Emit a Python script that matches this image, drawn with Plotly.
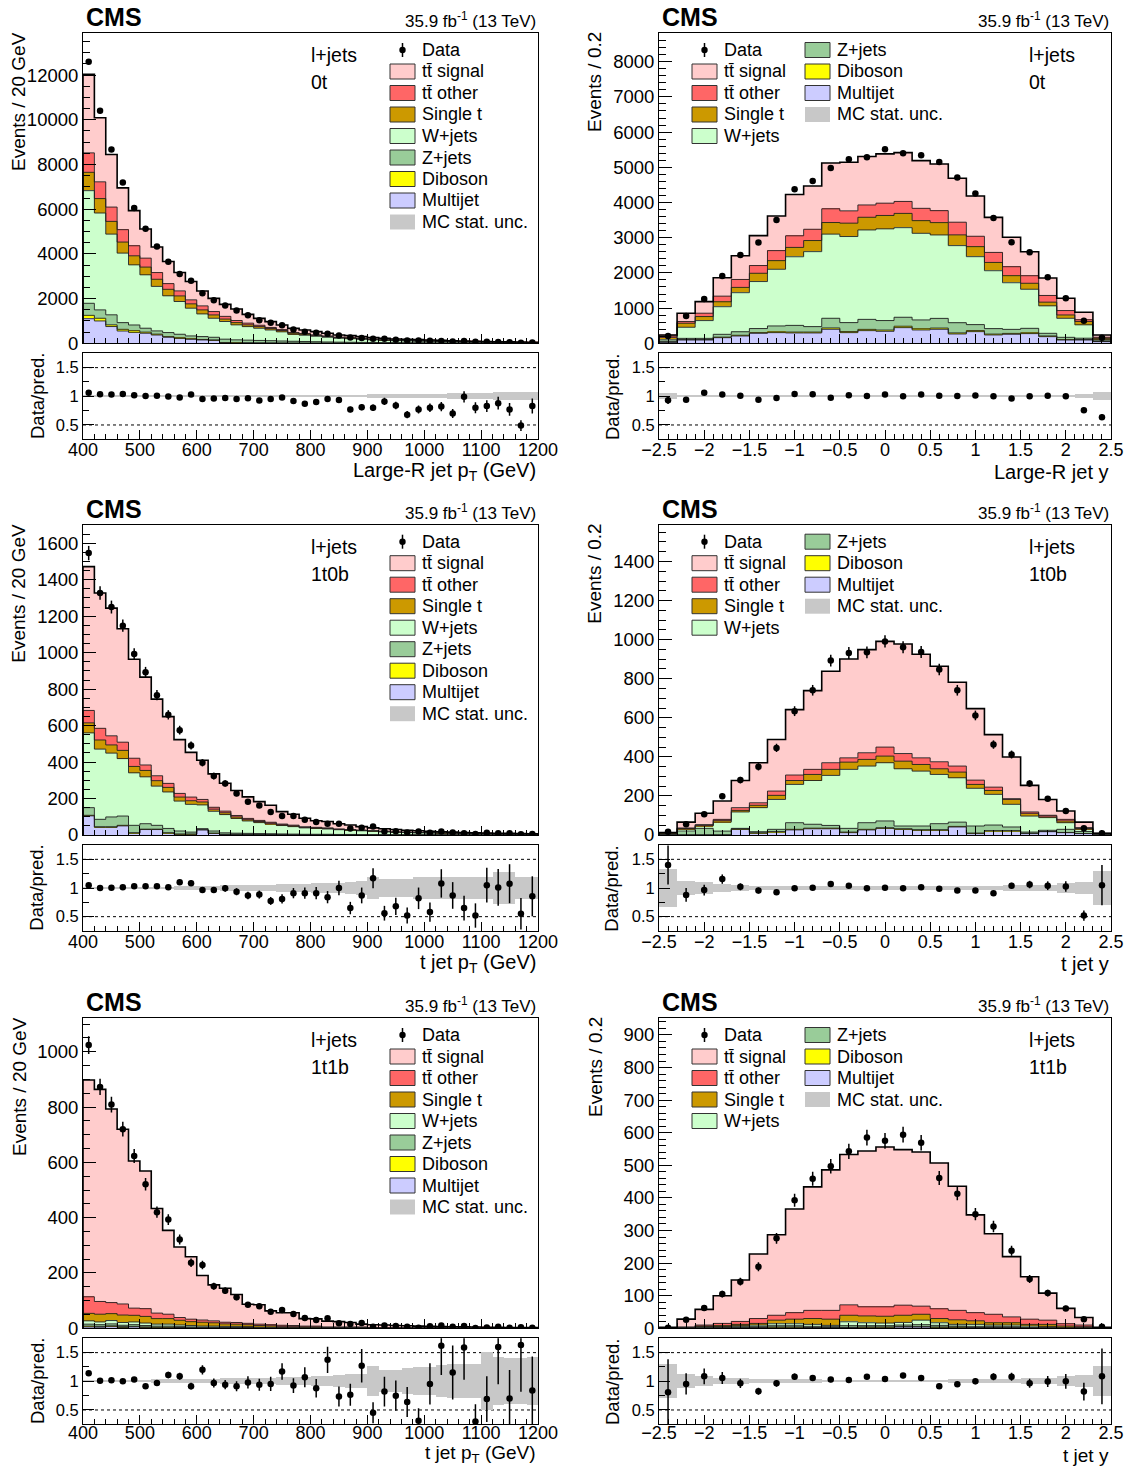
import numpy as np
import plotly.graph_objects as go

# ===================== DATA =====================
# binning
pt_bins = (400.0, 1200.0, 40)     # t / large-R jet pT, 20 GeV bins
y_bins = (-2.5, 2.5, 25)          # rapidity, 0.2 bins

legend_names = ["Data", "tt\u0304 signal", "tt\u0304 other", "Single t", "W+jets",
                "Z+jets", "Diboson", "Multijet", "MC stat. unc."]

# ---- Panel 1 : Large-R jet pT, 0t ----
p1_multijet = [1100, 1000, 750, 550, 490, 450, 370, 270, 220, 180, 150, 130, 20, 15, 12, 10, 8, 6, 5, 4,
               3, 3, 2, 2, 2, 1, 1, 1, 1, 1, 1, 1, 1, 0, 0, 0, 0, 0, 0, 0]
p1_diboson = [150, 120, 75, 75, 75, 50, 40, 30, 30, 25, 20, 20, 15, 10, 10, 8, 8, 7, 6, 5,
              5, 4, 4, 3, 3, 3, 2, 2, 2, 2, 2, 1, 1, 1, 1, 1, 1, 1, 1, 1]
p1_zjets = [540, 375, 450, 300, 255, 175, 145, 180, 155, 125, 130, 120, 150, 130, 120, 110, 100, 90, 80, 72,
            62, 54, 46, 42, 36, 31, 27, 24, 21, 19, 17, 15, 13, 12, 10, 9, 8, 7, 6, 5]
p1_wjets = [5040, 4335, 3610, 3110, 2690, 2390, 1990, 1645, 1465, 1240, 1015, 850, 790, 670, 605, 545, 480, 410, 310, 280,
            245, 210, 175, 160, 140, 118, 104, 90, 84, 76, 70, 61, 54, 47, 43, 38, 33, 29, 26, 24]
p1_singlet = [820, 645, 570, 495, 405, 345, 320, 290, 250, 195, 180, 150, 110, 100, 80, 75, 68, 60, 50, 45,
              39, 34, 28, 26, 22, 19, 17, 15, 13, 12, 11, 10, 9, 8, 7, 6, 5, 5, 4, 4]
p1_ttother = [870, 750, 640, 555, 450, 400, 300, 255, 225, 180, 180, 150, 120, 95, 75, 60, 45, 40, 34, 30,
              26, 22, 19, 17, 15, 13, 11, 10, 9, 8, 7, 7, 6, 5, 5, 4, 4, 3, 3, 3]
p1_signal = [3515, 2865, 2352, 1867, 1570, 1303, 1141, 993, 825, 821, 665, 591, 538, 515, 394, 309, 259, 207, 185, 160,
             141, 120, 98, 93, 80, 68, 61, 52, 49, 46, 41, 35, 31, 27, 24, 22, 19, 17, 15, 13]
p1_data = [12600, 10400, 8670, 7200, 6050, 5130, 4330, 3650, 3100, 2800, 2235, 1930, 1690, 1466, 1250, 1033, 924, 804, 616, 519,
           469, 427, 348, 264, 241, 202, 203, 163, 122, 126, 119, 107, 81, 99, 72, 66, 62, 48, 27, 41]
p1_ratio = [1.06, 1.035, 1.03, 1.04, 1.02, 1.005, 1.01, 0.995, 0.98, 1.03, 0.955, 0.96, 0.97, 0.955, 0.965, 0.925, 0.955, 0.98, 0.92, 0.87,
            0.90, 0.955, 0.935, 0.77, 0.81, 0.80, 0.91, 0.84, 0.68, 0.77, 0.80, 0.82, 0.70, 0.99, 0.80, 0.83, 0.88, 0.77, 0.49, 0.83]
p1_mcunc = [0.008, 0.008, 0.008, 0.008, 0.009, 0.009, 0.01, 0.01, 0.01, 0.011, 0.012, 0.012, 0.013, 0.014, 0.015, 0.016, 0.017, 0.018, 0.019, 0.02,
            0.02, 0.022, 0.024, 0.025, 0.026, 0.028, 0.03, 0.032, 0.035, 0.035, 0.04, 0.042, 0.045, 0.05, 0.055, 0.06, 0.065, 0.07, 0.07, 0.07]

# ---- Panel 2 : Large-R jet y, 0t ----
p2_multijet = [30, 95, 95, 160, 208, 284, 303, 294, 294, 398, 303, 360, 341, 445, 379, 398, 265, 331, 237, 256, 275, 189, 95, 95, 47]
p2_diboson = [5, 10, 10, 15, 20, 20, 25, 25, 25, 38, 30, 35, 35, 40, 35, 35, 30, 30, 25, 25, 25, 20, 10, 10, 5]
p2_zjets = [25, 35, 35, 80, 100, 115, 165, 190, 155, 275, 255, 285, 270, 255, 250, 275, 290, 170, 155, 115, 125, 75, 65, 40, 20]
p2_wjets = [40, 315, 505, 785, 1110, 1335, 1610, 1950, 2130, 2390, 2445, 2540, 2605, 2545, 2460, 2370, 2190, 1930, 1645, 1325, 1110, 780, 540, 380, 40]
p2_singlet = [70, 115, 115, 140, 150, 235, 245, 265, 315, 330, 380, 360, 380, 405, 360, 350, 305, 285, 235, 200, 170, 105, 95, 95, 30]
p2_ttother = [38, 48, 95, 160, 225, 220, 285, 330, 320, 390, 350, 350, 350, 340, 350, 340, 360, 295, 285, 255, 215, 190, 125, 50, 30]
p2_signal = [29, 235, 330, 520, 675, 850, 985, 1175, 1230, 1300, 1380, 1375, 1400, 1385, 1355, 1325, 1250, 1145, 995, 835, 680, 495, 350, 210, 65]
p2_data = [208, 777, 1260, 1913, 2510, 2860, 3504, 4375, 4612, 4981, 5227, 5284, 5512, 5398, 5341, 5152, 4707, 4252, 3561, 2869, 2585, 1875, 1278, 644, 161]
p2_ratio = [0.93, 0.94, 1.06, 1.03, 1.01, 0.94, 0.97, 1.04, 1.035, 0.975, 1.02, 1.005, 1.03, 1.0, 1.03, 1.01, 1.005, 1.015, 1.0, 0.96, 1.0, 1.01, 1.0, 0.755, 0.635]
p2_mcunc = [0.06, 0.02, 0.015, 0.012, 0.01, 0.01, 0.01, 0.01, 0.01, 0.01, 0.01, 0.01, 0.01, 0.01, 0.01, 0.01, 0.01, 0.01, 0.01, 0.01, 0.012, 0.015, 0.02, 0.03, 0.07]

# ---- Panel 3 : t jet pT, 1t0b ----
p3_multijet = [105, 42, 42, 50, 10, 30, 30, 10, 4, 4, 28, 9, 3, 3, 2, 2, 2, 1, 1, 1,
               1, 1, 1, 1, 0, 0, 0, 0, 0, 0, 0, 0, 0, 0, 0, 0, 0, 0, 0, 0]
p3_diboson = [3, 3, 3, 3, 2, 2, 2, 2, 1, 1, 1, 1, 1, 1, 1, 1, 1, 1, 0, 0,
              0, 0, 0, 0, 0, 0, 0, 0, 0, 0, 0, 0, 0, 0, 0, 0, 0, 0, 0, 0]
p3_zjets = [42, 41, 54, 51, 41, 30, 21, 24, 17, 11, 6, 12, 8, 6, 6, 5, 4, 4, 4, 3,
            3, 3, 2, 2, 2, 2, 1, 1, 1, 1, 1, 1, 1, 1, 0, 0, 0, 0, 0, 0]
p3_wjets = [410, 385, 350, 315, 288, 257, 215, 200, 164, 152, 130, 108, 100, 81, 68, 60, 53, 46, 41, 35,
            32, 29, 26, 23, 21, 18, 16, 14, 13, 11, 10, 9, 8, 7, 6, 6, 5, 4, 4, 3]
p3_singlet = [55, 50, 45, 45, 35, 35, 30, 25, 22, 20, 16, 12, 10, 8, 7, 6, 5, 4, 4, 3,
              3, 3, 2, 2, 2, 2, 2, 1, 1, 1, 1, 1, 1, 1, 1, 1, 0, 0, 0, 0]
p3_ttother = [68, 64, 50, 45, 45, 30, 27, 22, 20, 20, 14, 10, 9, 8, 7, 6, 5, 4, 4, 3,
              3, 3, 2, 2, 2, 2, 2, 1, 1, 1, 1, 1, 1, 1, 1, 1, 1, 0, 0, 0]
p3_signal = [789, 742, 700, 622, 543, 482, 420, 366, 295, 245, 215, 183, 153, 137, 118, 103, 93, 68, 60, 47,
             36, 35, 29, 25, 19, 15, 13, 13, 10, 9, 7, 6, 5, 4, 4, 3, 4, 5, 4, 4]
p3_data = [1546, 1327, 1250, 1148, 993, 892, 767, 659, 575, 491, 396, 323, 283, 228, 182, 162, 126, 104, 104, 84,
           71, 62, 62, 36, 40, 46, 19, 20, 14, 19, 12, 19, 14, 9, 6, 12, 10, 10, 4, 6]
p3_ratio = [1.05, 1.0, 1.005, 1.015, 1.03, 1.03, 1.03, 1.015, 1.10, 1.085, 0.965, 0.965, 0.995, 0.935, 0.87, 0.885, 0.775, 0.81, 0.91, 0.91,
            0.91, 0.84, 1.0, 0.65, 0.87, 1.17, 0.56, 0.68, 0.52, 0.82, 0.58, 1.08, 0.87, 0.65, 0.52, 1.05, 1.01, 1.075, 0.55, 0.855]
p3_mcunc = [0.015, 0.015, 0.015, 0.018, 0.02, 0.02, 0.022, 0.025, 0.03, 0.03, 0.035, 0.04, 0.045, 0.05, 0.05, 0.06, 0.06, 0.065, 0.07, 0.07,
            0.08, 0.08, 0.09, 0.1, 0.12, 0.2, 0.15, 0.15, 0.15, 0.2, 0.2, 0.2, 0.2, 0.2, 0.2, 0.2, 0.28, 0.28, 0.2, 0.2]

# ---- Panel 4 : t jet y, 1t0b ----
p4_multijet = [0, 0, 0, 0, 29, 9, 15, 26, 32, 32, 12, 26, 34, 29, 24, 24, 41, 7, 20, 20, 7, 17, 12, 7, 0]
p4_diboson = [0, 1, 1, 1, 2, 2, 2, 3, 3, 3, 3, 3, 3, 3, 3, 3, 3, 3, 2, 2, 2, 1, 1, 1, 0]
p4_zjets = [3, 19, 33, 19, 3, 6, 12, 34, 20, 14, 19, 34, 35, 14, 19, 31, 22, 36, 29, 19, 6, 6, 16, 10, 2]
p4_wjets = [6, 10, 12, 46, 84, 123, 153, 196, 224, 256, 302, 290, 298, 293, 281, 252, 227, 193, 157, 116, 82, 65, 34, 12, 4]
p4_singlet = [2, 3, 4, 9, 8, 12, 21, 20, 31, 31, 37, 34, 34, 39, 34, 29, 29, 20, 20, 25, 14, 8, 9, 3, 2]
p4_ttother = [1, 3, 3, 5, 14, 13, 22, 28, 26, 34, 22, 34, 46, 39, 34, 36, 31, 22, 17, 4, 7, 4, 8, 5, 1]
p4_signal = [0, 30, 58, 94, 139, 205, 264, 335, 403, 468, 506, 528, 541, 561, 530, 489, 429, 366, 269, 213, 136, 81, 43, 28, 0]
p4_data = [17, 55, 106, 199, 281, 349, 446, 634, 741, 893, 932, 935, 991, 961, 937, 847, 741, 612, 463, 412, 264, 186, 123, 34, 9]
p4_ratio = [1.40, 0.88, 0.965, 1.155, 1.02, 0.955, 0.925, 0.995, 1.005, 1.07, 1.04, 0.995, 1.005, 0.995, 1.015, 0.985, 0.955, 0.955, 0.91, 1.04, 1.06, 1.04, 1.025, 0.52, 1.05]
p4_mcunc = [0.34, 0.12, 0.1, 0.07, 0.05, 0.04, 0.035, 0.03, 0.03, 0.03, 0.03, 0.03, 0.03, 0.03, 0.03, 0.03, 0.03, 0.035, 0.04, 0.045, 0.05, 0.06, 0.08, 0.1, 0.29]

# ---- Panel 5 : t jet pT, 1t1b ----
p5_multijet = [5, 4, 6, 3, 5, 3, 2, 2, 2, 1, 1, 1, 1, 1, 1, 0, 0, 0, 0, 0,
               0, 0, 0, 0, 0, 0, 0, 0, 0, 0, 0, 0, 0, 0, 0, 0, 0, 0, 0, 0]
p5_diboson = [3, 3, 3, 3, 2, 2, 2, 2, 1, 1, 1, 1, 1, 1, 1, 1, 1, 0, 0, 0,
              0, 0, 0, 0, 0, 0, 0, 0, 0, 0, 0, 0, 0, 0, 0, 0, 0, 0, 0, 0]
p5_zjets = [7, 6, 7, 5, 6, 5, 4, 4, 3, 3, 2, 2, 2, 2, 1, 1, 1, 1, 1, 1,
            1, 0, 0, 0, 0, 0, 0, 0, 0, 0, 0, 0, 0, 0, 0, 0, 0, 0, 0, 0]
p5_wjets = [12, 10, 12, 10, 10, 9, 7, 7, 6, 5, 4, 4, 3, 3, 3, 2, 2, 2, 2, 1,
            1, 1, 1, 1, 1, 1, 0, 0, 0, 0, 0, 0, 0, 0, 0, 0, 0, 0, 0, 0]
p5_singlet = [27, 28, 25, 27, 24, 24, 20, 20, 17, 14, 14, 12, 9, 8, 7, 6, 5, 4, 4, 3,
              3, 2, 2, 2, 2, 1, 1, 1, 1, 1, 1, 1, 0, 0, 0, 0, 0, 0, 0, 0]
p5_ttother = [60, 46, 40, 40, 26, 28, 20, 16, 10, 9, 8, 7, 6, 6, 5, 5, 4, 4, 3, 3,
              3, 2, 2, 2, 2, 1, 1, 1, 1, 1, 1, 1, 1, 0, 0, 0, 0, 0, 0, 0]
p5_signal = [784, 767, 700, 632, 532, 498, 378, 303, 255, 226, 161, 130, 123, 101, 69, 70, 50, 45, 46, 27,
             26, 21, 19, 16, 10, 10, 10, 8, 7, 6, 5, 4, 4.5, 5, 4.5, 4, 3.5, 3, 2.7, 2.4]
p5_data = [1024, 873, 809, 720, 623, 521, 420, 393, 321, 237, 229, 152, 136, 112, 85, 80, 60, 66, 52, 37,
           30, 36, 18, 16, 19, 6, 10, 8, 6, 2, 7, 10, 6, 8, 1, 3, 6, 2, 4, 2]
p5_ratio = [1.14, 1.01, 1.02, 1.0, 1.03, 0.915, 0.97, 1.11, 1.09, 0.915, 1.2, 0.97, 0.94, 0.915, 0.98, 0.94, 0.955, 1.17, 0.925, 1.07,
            0.88, 1.375, 0.735, 0.765, 1.27, 0.45, 0.82, 0.75, 0.64, 0.31, 0.955, 1.62, 1.155, 1.59, 0.30, 0.69, 1.60, 0.70, 1.635, 0.84]
p5_mcunc = [0.02, 0.02, 0.02, 0.02, 0.025, 0.025, 0.03, 0.03, 0.035, 0.035, 0.04, 0.04, 0.045, 0.05, 0.05, 0.055, 0.06, 0.065, 0.07, 0.075,
            0.08, 0.09, 0.1, 0.12, 0.12, 0.27, 0.2, 0.2, 0.22, 0.25, 0.25, 0.28, 0.3, 0.3, 0.3, 0.5, 0.42, 0.4, 0.4, 0.42]

# ---- Panel 6 : t jet y, 1t1b ----
p6_multijet = [0, 0, 1, 1, 1, 2, 3, 3, 2, 2, 2, 3, 3, 4, 4, 3, 3, 2, 2, 1, 1, 1, 0, 0, 0]
p6_diboson = [0, 0, 0, 1, 1, 1, 1, 1, 1, 1, 1, 1, 1, 1, 1, 1, 1, 1, 1, 1, 0, 0, 0, 0, 0]
p6_zjets = [0, 1, 2, 2, 3, 3, 4, 4, 3, 3, 5, 4, 4, 5, 6, 5, 3, 3, 3, 3, 2, 2, 1, 1, 0]
p6_wjets = [0, 1, 2, 2, 3, 4, 6, 6, 6, 3, 12, 9, 8, 8, 14, 8, 5, 6, 4, 5, 4, 3, 2, 1, 0]
p6_singlet = [0, 1, 2, 2, 4, 5, 11, 14, 18, 19, 20, 21, 21, 22, 18, 13, 14, 11, 7, 7, 5, 6, 4, 3, 0]
p6_ttother = [0, 1, 3, 7, 9, 15, 15, 20, 25, 27, 32, 28, 29, 31, 25, 30, 29, 25, 26, 18, 16, 13, 7, 5, 0]
p6_signal = [3, 24, 48, 85, 127, 198, 247, 318, 379, 431, 461, 478, 490, 477, 473, 447, 381, 300, 247, 185, 130, 83, 47, 23, 3]
p6_data = [2, 26, 62, 105, 143, 189, 276, 393, 459, 497, 543, 585, 575, 594, 569, 461, 413, 350, 312, 238, 151, 108, 61, 28, 5]
p6_ratio = [0.81, 0.955, 1.087, 1.058, 0.965, 0.827, 0.965, 1.08, 1.058, 1.03, 1.023, 1.08, 1.04, 1.1, 1.058, 0.913, 0.948, 1.0, 1.08, 1.08, 0.965, 0.995, 1.0, 0.82, 1.087]
p6_mcunc = [0.3, 0.12, 0.08, 0.06, 0.05, 0.04, 0.035, 0.03, 0.03, 0.025, 0.025, 0.025, 0.025, 0.025, 0.025, 0.025, 0.03, 0.03, 0.035, 0.04, 0.05, 0.06, 0.08, 0.1, 0.26]

# ===================== STYLE / LAYOUT =====================
FIG_W, FIG_H = 1134, 1468
FONT = "Liberation Sans, Arial, Helvetica, sans-serif"
comp_colors = ["#ccccff", "#ffff00", "#99cc99", "#ccffcc", "#cc9900", "#ff6666", "#ffcccc"]  # bottom -> top
UNC_COLOR = "#c8c8c8"
LINE_DARK = "#202020"


def fx(px):
    return px / FIG_W


def fy(py):
    return 1 - py / FIG_H


panels = [
    dict(col=0, row=0, kind="pt", xtitle="Large-R jet p<sub>T</sub> (GeV)", cat="0t", ymax=13870, ydt=2000, ymin_dt=500,
         comps=[p1_multijet, p1_diboson, p1_zjets, p1_wjets, p1_singlet, p1_ttother, p1_signal],
         data=p1_data, ratio=p1_ratio, unc=p1_mcunc),
    dict(col=1, row=0, kind="y", xtitle="Large-R jet y", cat="0t", ymax=8806, ydt=1000, ymin_dt=200,
         comps=[p2_multijet, p2_diboson, p2_zjets, p2_wjets, p2_singlet, p2_ttother, p2_signal],
         data=p2_data, ratio=p2_ratio, unc=p2_mcunc),
    dict(col=0, row=1, kind="pt", xtitle="t jet p<sub>T</sub> (GeV)", cat="1t0b", ymax=1700, ydt=200, ymin_dt=50,
         comps=[p3_multijet, p3_diboson, p3_zjets, p3_wjets, p3_singlet, p3_ttother, p3_signal],
         data=p3_data, ratio=p3_ratio, unc=p3_mcunc),
    dict(col=1, row=1, kind="y", xtitle="t jet y", cat="1t0b", ymax=1587, ydt=200, ymin_dt=50,
         comps=[p4_multijet, p4_diboson, p4_zjets, p4_wjets, p4_singlet, p4_ttother, p4_signal],
         data=p4_data, ratio=p4_ratio, unc=p4_mcunc),
    dict(col=0, row=2, kind="pt", xtitle="t jet p<sub>T</sub> (GeV)", cat="1t1b", ymax=1121, ydt=200, ymin_dt=50,
         comps=[p5_multijet, p5_diboson, p5_zjets, p5_wjets, p5_singlet, p5_ttother, p5_signal],
         data=p5_data, ratio=p5_ratio, unc=p5_mcunc),
    dict(col=1, row=2, kind="y", xtitle="t jet y", cat="1t1b", ymax=951, ydt=100, ymin_dt=20,
         comps=[p6_multijet, p6_diboson, p6_zjets, p6_wjets, p6_singlet, p6_ttother, p6_signal],
         data=p6_data, ratio=p6_ratio, unc=p6_mcunc),
]

col_x = [(83.0, 538.0), (659.0, 1111.0)]
row_off = [0.0, 491.7, 985.0]
MAIN_TOP, MAIN_BOT = 33.3, 343.3
RAT_TOP, RAT_BOT = 353.3, 439.3


def axname(n, letter):
    return letter if n == 1 else f"{letter}{n}"


def layname(n, letter):
    return f"{letter}axis" if n == 1 else f"{letter}axis{n}"


def step_xy(edges, vals):
    xs = [edges[0]] + list(edges[:-1]) + [edges[-1], edges[-1]]
    ys = [0.0] + list(vals) + [vals[-1], 0.0]
    return xs, ys


fig = go.Figure()
layout = {}
annotations = []
shapes = []


def ann(text, xp, yp, size, xanchor="left", yanchor="middle", angle=0, bold=False):
    annotations.append(dict(
        text=(f"<b>{text}</b>" if bold else text), x=fx(xp), y=fy(yp), xref="paper", yref="paper",
        xanchor=xanchor, yanchor=yanchor, showarrow=False, textangle=angle,
        font=dict(family=FONT, size=size, color="black")))


for p, P in enumerate(panels):
    nm, nr = 2 * p + 1, 2 * p + 2
    xl, xr = col_x[P["col"]]
    off = row_off[P["row"]]
    last_row = (P["row"] == 2)
    lo, hi, nb = pt_bins if P["kind"] == "pt" else y_bins
    edges = np.linspace(lo, hi, nb + 1)
    centers = 0.5 * (edges[:-1] + edges[1:])
    bw = edges[1] - edges[0]

    comps = np.array(P["comps"], dtype=float)
    cum = np.cumsum(comps, axis=0)
    data = np.array(P["data"], dtype=float)
    ratio = np.array(P["ratio"], dtype=float)
    unc = np.array(P["unc"], dtype=float)

    xa_m, ya_m = axname(nm, "x"), axname(nm, "y")
    xa_r, ya_r = axname(nr, "x"), axname(nr, "y")

    # stacked fills
    for k in range(len(comps)):
        base = cum[k - 1] if k > 0 else np.zeros(nb)
        fig.add_trace(go.Bar(x=centers, y=comps[k], base=base, width=bw, xaxis=xa_m, yaxis=ya_m,
                             marker=dict(color=comp_colors[k], line=dict(width=0)), opacity=1,
                             showlegend=False, hoverinfo="skip"))
    # outlines of every cumulative level
    for k in range(len(comps)):
        xs, ys = step_xy(edges, cum[k])
        last = (k == len(comps) - 1)
        fig.add_trace(go.Scatter(x=xs, y=ys, mode="lines", xaxis=xa_m, yaxis=ya_m,
                                 line=dict(color="black" if last else LINE_DARK, width=1.6 if last else 0.9, shape="hv"),
                                 showlegend=False, hoverinfo="skip"))
    # data
    fig.add_trace(go.Scatter(x=centers, y=data, mode="markers", xaxis=xa_m, yaxis=ya_m,
                             marker=dict(color="black", size=6.5),
                             error_y=dict(type="data", array=np.sqrt(data), color="black", thickness=1.5, width=0),
                             showlegend=False))
    # ratio band and points
    fig.add_trace(go.Bar(x=centers, y=2 * unc, base=1 - unc, width=bw, xaxis=xa_r, yaxis=ya_r,
                         marker=dict(color=UNC_COLOR, line=dict(width=0)), showlegend=False, hoverinfo="skip"))
    fig.add_trace(go.Scatter(x=centers, y=ratio, mode="markers", xaxis=xa_r, yaxis=ya_r,
                             marker=dict(color="black", size=6.5),
                             error_y=dict(type="data", array=ratio / np.sqrt(data), color="black", thickness=1.5, width=0),
                             showlegend=False))

    # ---- axes ----
    if P["kind"] == "pt":
        tv = list(range(400, 1201, 100))
        tt = [str(v) for v in tv]
        minor_x = dict(ticks="inside", ticklen=5, tick0=400, dtick=20, tickcolor="black", showgrid=False)
    else:
        tv = [-2.5 + 0.5 * i for i in range(11)]
        tt = [("\u2212" if v < 0 else "") + (f"{abs(v):g}") for v in tv]
        minor_x = dict(ticks="inside", ticklen=5, tick0=-2.5, dtick=0.1, tickcolor="black", showgrid=False)

    common = dict(showline=True, mirror=True, linecolor="black", linewidth=1, showgrid=False, zeroline=False,
                  ticks="inside", tickcolor="black", tickwidth=1, automargin=False)
    layout[layname(nm, "x")] = dict(common, domain=[fx(xl), fx(xr)], range=[lo, hi], anchor=ya_m,
                                    tickmode="array", tickvals=tv, ticktext=tt, showticklabels=False,
                                    ticklen=9, minor=minor_x)
    layout[layname(nr, "x")] = dict(common, domain=[fx(xl), fx(xr)], range=[lo, hi], anchor=ya_r,
                                    tickmode="array", tickvals=tv, ticktext=tt, showticklabels=True,
                                    ticklen=9, minor=minor_x, ticklabelstandoff=(-8 if last_row else -6),
                                    tickfont=dict(family=FONT, size=18, color="black"))
    layout[layname(nm, "y")] = dict(common, domain=[fy(off + MAIN_BOT), fy(off + MAIN_TOP)], range=[0, P["ymax"]],
                                    anchor=xa_m, tickmode="linear", tick0=0, dtick=P["ydt"], tickformat="d",
                                    ticklen=13,
                                    minor=dict(ticks="inside", ticklen=7, tick0=0, dtick=P["ymin_dt"], tickcolor="black", showgrid=False),
                                    tickfont=dict(family=FONT, size=18.5, color="black"))
    layout[layname(nr, "y")] = dict(common, domain=[fy(off + RAT_BOT), fy(off + RAT_TOP)], range=[0.25, 1.75],
                                    anchor=xa_r, tickmode="array", tickvals=[0.5, 1, 1.5], ticktext=["0.5", "1", "1.5"],
                                    ticklen=11,
                                    minor=dict(ticks="inside", ticklen=6, tick0=0.25, dtick=0.25, tickcolor="black", showgrid=False),
                                    tickfont=dict(family=FONT, size=16.5, color="black"))

    # dotted reference lines in the ratio pad
    for lv in (0.5, 1.5):
        shapes.append(dict(type="line", xref=f"{xa_r} domain", yref=ya_r, x0=0, x1=1, y0=lv, y1=lv,
                           line=dict(color="black", width=1, dash="dot"), layer="below"))

    # ---- texts ----
    ann("CMS", xl + 1, off + 17, 25, bold=True)
    ann("35.9 fb<sup>-1</sup> (13 TeV)", xr, off + 20, 17, xanchor="right")
    ch_x = 309 if P["col"] == 0 else 1027
    ann("l+jets", ch_x, off + 55, 19.5)
    ann(P["cat"], ch_x, off + 82, 19.5)
    if P["col"] == 0:
        ann("Events / 20 GeV", 19, off + 102, 19, xanchor="center", angle=-90)
        ann("Data/pred.", 37, off + 396, 18.5, xanchor="center", angle=-90)
    else:
        ann("Events / 0.2", 595, off + 82, 19, xanchor="center", angle=-90)
        ann("Data/pred.", 612, off + 397, 18.5, xanchor="center", angle=-90)
    if last_row:
        ann(P["xtitle"], xr, FIG_H - 0.5, 19, xanchor="right", yanchor="bottom")
    else:
        ann(P["xtitle"], xr, off + 472, 20, xanchor="right")

    # ---- legend (drawn in pixel positions of the reference) ----
    row_h = 21.5
    if P["col"] == 0:
        entries = [(390, 420, off + 50 + i * row_h, legend_names[i]) for i in range(9)]
    else:
        entries = [(692, 722, off + 50 + i * row_h, legend_names[i]) for i in range(5)]
        entries += [(805, 835, off + 50 + i * row_h, legend_names[5 + i]) for i in range(4)]
    fill_for = {legend_names[1]: comp_colors[6], legend_names[2]: comp_colors[5], legend_names[3]: comp_colors[4],
                legend_names[4]: comp_colors[3], legend_names[5]: comp_colors[2], legend_names[6]: comp_colors[1],
                legend_names[7]: comp_colors[0]}
    for (sx, tx, cy, name) in entries:
        if name == "Data":
            cx = sx + 12.5
            shapes.append(dict(type="line", xref="paper", yref="paper", x0=fx(cx), x1=fx(cx), y0=fy(cy - 7), y1=fy(cy + 7),
                               line=dict(color="black", width=1.5)))
            shapes.append(dict(type="circle", xref="paper", yref="paper", x0=fx(cx - 3.2), x1=fx(cx + 3.2),
                               y0=fy(cy + 3.2), y1=fy(cy - 3.2), fillcolor="black", line=dict(color="black", width=0)))
        elif name == "MC stat. unc.":
            shapes.append(dict(type="rect", xref="paper", yref="paper", x0=fx(sx), x1=fx(sx + 25), y0=fy(cy + 7.5),
                               y1=fy(cy - 7.5), fillcolor=UNC_COLOR, line=dict(width=0)))
        else:
            shapes.append(dict(type="rect", xref="paper", yref="paper", x0=fx(sx), x1=fx(sx + 25), y0=fy(cy + 7.5),
                               y1=fy(cy - 7.5), fillcolor=fill_for[name], line=dict(color="#333333", width=1)))
        ann(name, tx, cy, 18)

fig.update_layout(**layout)
fig.update_layout(template="none", width=FIG_W, height=FIG_H, autosize=False,
                  margin=dict(l=0, r=0, t=0, b=0, pad=0, autoexpand=False),
                  paper_bgcolor="white", plot_bgcolor="white", showlegend=False,
                  barmode="overlay", bargap=0, annotations=annotations, shapes=shapes,
                  font=dict(family=FONT, color="black"))

fig.write_html("out.html", config={"displayModeBar": False},
               post_script="document.body.style.margin='0px';document.body.style.padding='0px';")
